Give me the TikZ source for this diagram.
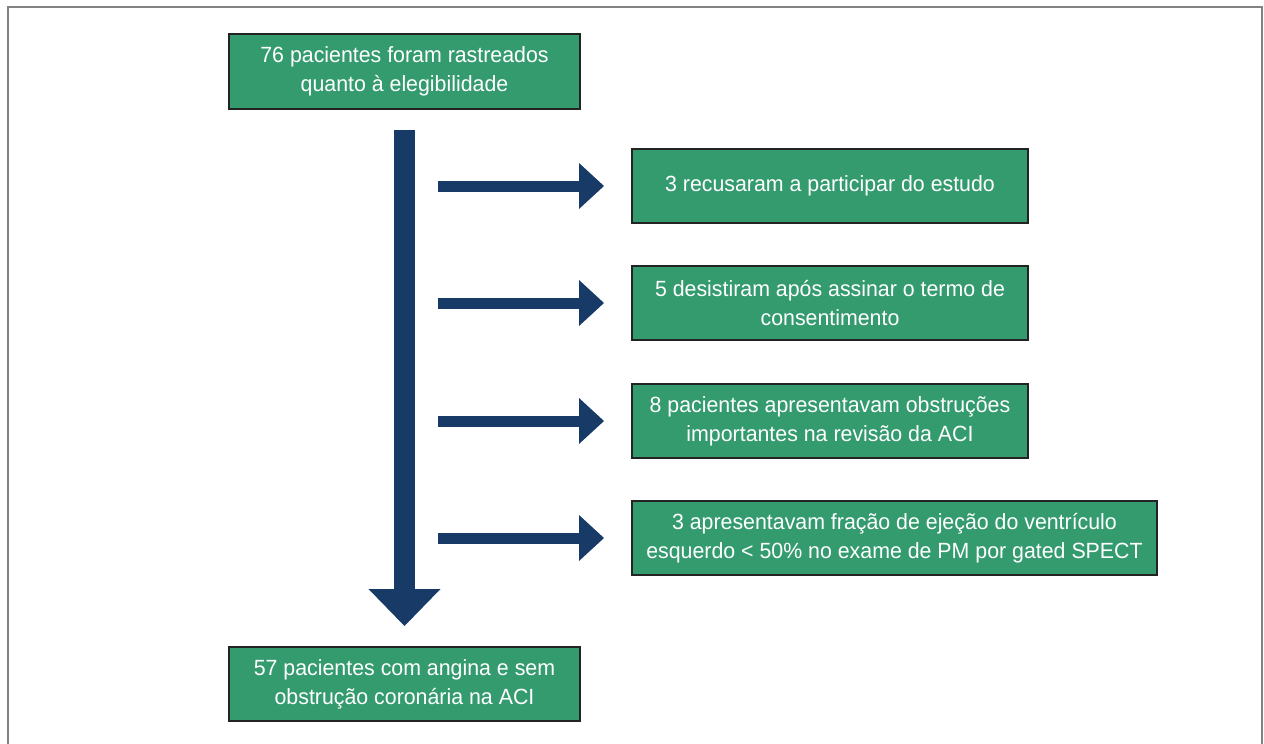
\documentclass[tikz,border=0pt]{standalone}
\usepackage{fontspec}
\setmainfont{Liberation Sans}[FakeStretch=0.97]
\usetikzlibrary{positioning, arrows.meta}
\definecolor{boxgreen}{RGB}{52,155,111}
\definecolor{flownavy}{RGB}{23,58,102}
\definecolor{boxline}{RGB}{35,35,35}
\definecolor{framegray}{RGB}{130,130,130}
\tikzset{
  stage/.style={rectangle,
    minimum height=74pt,
    inner sep=0pt,
    align=center,
    text=white,
    draw=boxline,
    line width=2pt,
    fill=boxgreen,
    font=\fontsize{22}{29}\selectfont},
  vflow/.style={draw=flownavy, line width=21pt,
    -{Triangle[width=72pt, length=37pt, line width=0pt, fill=flownavy]}},
  hflow/.style={draw=flownavy, line width=11pt,
    -{Triangle[width=46pt, length=25pt, line width=0pt, fill=flownavy]}}
}
\begin{document}
\begin{tikzpicture}[x=1pt, y=-1pt]
  \useasboundingbox (0,0) rectangle (1264,744);
  % outer frame
  \draw[framegray, line width=1.5pt] (8,780) -- (8,7) -- (1262,7) -- (1262,780);

  \node (start) [stage, minimum width=351pt, minimum height=75pt] at (404.5,71.5) {76 pacientes foram rastreados\\quanto à elegibilidade};

  \node (excl1) [stage, minimum width=396pt] at (830,186) {3 recusaram a participar do estudo};
  \node (excl2) [stage, minimum width=396pt, below=41pt of excl1] {5 desistiram após assinar o termo de\\consentimento};
  \node (excl3) [stage, minimum width=396pt, below=42pt of excl2] {8 pacientes apresentavam obstruções\\importantes na revisão da ACI};
  \node (excl4) [stage, minimum width=525pt, below=41pt of excl3.south west, anchor=north west] {3 apresentavam fração de ejeção do ventrículo\\esquerdo < 50\% no exame de PM por gated SPECT};

  \node (final) [stage, minimum width=351pt] at (404.5,684) {57 pacientes com angina e sem\\obstrução coronária na ACI};

  \coordinate (tail) at (438,0);

  \draw [vflow, shorten <=20pt, shorten >=20pt] (start.south) -- (final.north);
  \foreach \i in {1,...,4}
    \draw [hflow, shorten >=27pt] (excl\i.west -| tail) -- (excl\i.west);
\end{tikzpicture}
\end{document}
